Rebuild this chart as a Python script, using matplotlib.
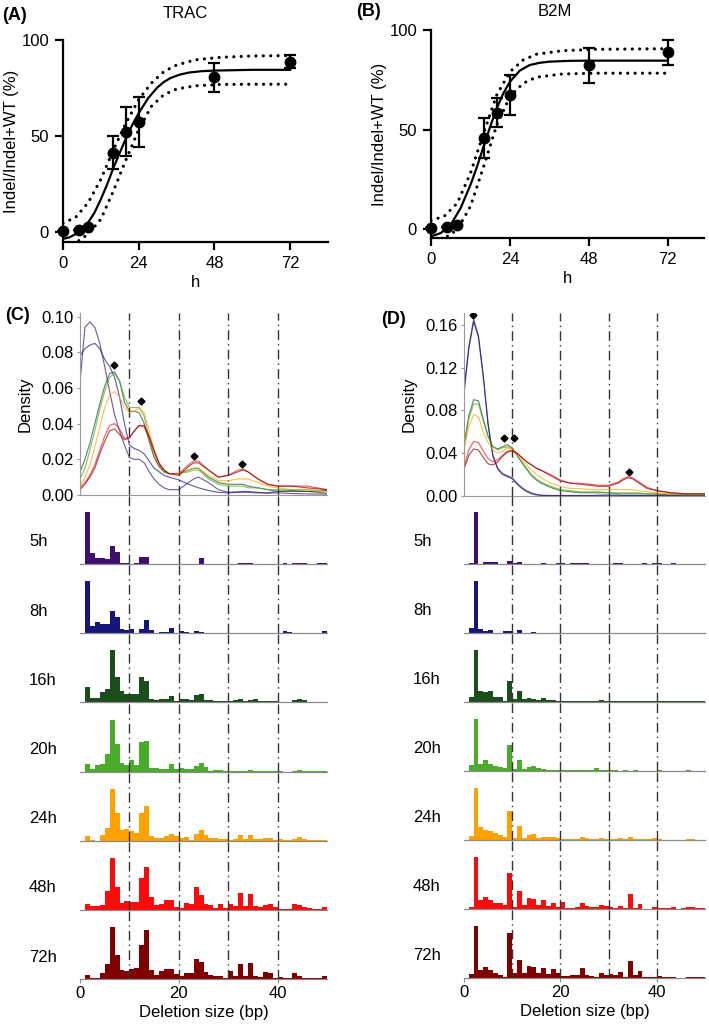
#!/usr/bin/env python3
"""
Editing kinetics (TRAC / B2M) and deletion-size distributions over time.
"""

import matplotlib
matplotlib.use('Agg')
import matplotlib.pyplot as plt

plt.rcParams['font.family'] = ['Liberation Sans', 'DejaVu Sans']
plt.rcParams['font.size'] = 12

# ---------------- kinetics data (panels A, B) ----------------
hours = [0, 5, 8, 16, 20, 24, 48, 72]

trac_mean = [0.5, 1.0, 2.6, 41.4, 52.4, 57.6, 80.7, 88.8]
trac_sd = [0.0, 0.0, 0.0, 8.5, 12.8, 13.0, 7.5, 3.4]
b2m_mean = [0.3, 1.0, 2.2, 45.7, 58.5, 67.4, 82.4, 88.8]
b2m_sd = [0.0, 0.0, 0.0, 10.0, 7.2, 10.0, 8.8, 6.3]

# fitted curve and confidence band
trac_fit_x = [0, 2, 5, 8, 10, 12, 14, 16, 18, 20, 22, 24, 27, 30, 32, 34, 37, 40, 44,
              48, 60, 72]
trac_fit_y = [-3.4, -2.6, 0.0, 5.2, 10.3, 17.2, 25.0, 33.6, 41.4, 49.1, 56.0, 62.0,
              69.8, 75.5, 78.2, 80.2, 82.0, 83.1, 83.8, 84.1, 84.5, 84.5]
trac_up_x = [0, 4, 8, 12, 16, 20, 24, 28, 32, 36, 42, 50, 60, 72]
trac_up_y = [4.8, 7.8, 15.5, 27.6, 43.0, 57.0, 69.0, 77.6, 83.6, 87.0, 89.7, 91.0, 91.7, 91.9]
trac_lo_x = [5, 8, 12, 16, 20, 24, 28, 32, 36, 42, 50, 60, 72]
trac_lo_y = [-4.3, -0.9, 6.9, 21.6, 37.9, 53.4, 65.5, 71.6, 74.5, 76.2, 76.9, 77.0, 77.0]

b2m_fit_x = [0, 3, 6, 9, 12, 14, 16, 18, 20, 22, 24, 27, 30, 33, 36, 42, 48, 72]
b2m_fit_y = [-3.7, -2.0, 2.2, 10.5, 22.2, 31.4, 41.5, 51.5, 60.7, 68.2, 74.0, 79.6,
             82.4, 83.5, 84.1, 84.5, 84.6, 84.6]
b2m_up_x = [0, 4, 8, 12, 16, 20, 24, 28, 32, 40, 50, 72]
b2m_up_y = [4.3, 6.4, 13.0, 28.1, 48.2, 67.4, 79.0, 84.9, 87.8, 89.6, 90.3, 90.6]
b2m_lo_x = [5, 8, 12, 16, 20, 24, 28, 32, 40, 50, 72]
b2m_lo_y = [-3.7, -0.3, 11.4, 31.4, 52.3, 66.6, 73.2, 76.3, 77.9, 78.3, 78.3]

# ---------------- deletion-size data (panels C, D) ----------------
timepoints = ['5h', '8h', '16h', '20h', '24h', '48h', '72h']
colors = ['#3d0f6e', '#16157a', '#1c4d1c', '#4bab2a', '#ffa200', '#ff0a0a', '#800000']
del_bins = list(range(1, 50))

trac_hist = {
    '5h': [1.0, 0.22, 0.11, 0.11, 0.10, 0.34, 0.24, 0.025, 0.025, 0, 0.02, 0.13, 0.13, 0, 0,
           0, 0, 0, 0, 0, 0, 0, 0, 0.12, 0, 0, 0, 0, 0, 0, 0, 0.01, 0.01, 0.01, 0, 0, 0, 0,
           0, 0, 0.01, 0, 0.01, 0.01, 0.01, 0, 0, 0.01, 0.01],
    '8h': [1.0, 0.135, 0.22, 0.18, 0.18, 0.42, 0.32, 0.085, 0.065, 0.085, 0, 0.085, 0.25,
           0.06, 0, 0.02, 0.02, 0.1, 0, 0.045, 0.02, 0, 0.05, 0.02, 0.01, 0, 0, 0, 0, 0, 0,
           0.01, 0.01, 0, 0, 0, 0, 0, 0, 0, 0.04, 0.02, 0, 0, 0, 0, 0, 0, 0.05],
    '16h': [0.29, 0.09, 0.09, 0.195, 0.25, 1.0, 0.48, 0.22, 0.17, 0.17, 0.17, 0.49, 0.42,
            0.065, 0.05, 0.065, 0.065, 0.12, 0.02, 0.065, 0.065, 0.05, 0.15, 0.155, 0.05,
            0.04, 0.025, 0.02, 0.02, 0.025, 0.05, 0.065, 0.02, 0.05, 0.06, 0.02, 0.025,
            0.025, 0.025, 0.015, 0, 0.015, 0.04, 0.06, 0.04, 0.015, 0, 0.005, 0.015],
    '20h': [0.14, 0.05, 0.12, 0.14, 0.33, 1.0, 0.53, 0.16, 0.12, 0.22, 0.12, 0.56, 0.58,
            0.07, 0.07, 0.05, 0.05, 0.14, 0.05, 0.07, 0.05, 0.05, 0.1, 0.17, 0.085, 0.02,
            0.03, 0.03, 0.02, 0.02, 0.02, 0.02, 0.02, 0.03, 0.02, 0.02, 0.01, 0.02, 0.02,
            0.01, 0, 0, 0.01, 0.04, 0.02, 0.02, 0.01, 0.01, 0.01],
    '24h': [0.085, 0.02, 0, 0.12, 0.25, 1.0, 0.54, 0.2, 0.22, 0.19, 0.15, 0.54, 0.67, 0.1,
            0.06, 0.045, 0.085, 0.14, 0.1, 0.06, 0.07, 0.02, 0.14, 0.2, 0.11, 0.06, 0.045,
            0.03, 0.03, 0.02, 0.03, 0.12, 0.03, 0.12, 0.03, 0.03, 0.045, 0.06, 0.02, 0.03,
            0.01, 0.01, 0.03, 0.07, 0.03, 0.02, 0.01, 0.01, 0.01],
    '48h': [0.12, 0.07, 0.07, 0.09, 0.37, 1.0, 0.44, 0.14, 0.18, 0.16, 0.16, 0.61, 0.82,
            0.25, 0.09, 0.11, 0.19, 0.19, 0.06, 0.045, 0.14, 0.11, 0.44, 0.29, 0.11, 0.09,
            0.045, 0.11, 0.045, 0.11, 0.07, 0.32, 0.07, 0.31, 0.07, 0.06, 0.09, 0.12, 0.06,
            0.02, 0.02, 0.01, 0.12, 0.09, 0.06, 0.03, 0.02, 0.01, 0.06],
    '72h': [0.08, 0.025, 0.025, 0.11, 0.3, 1.0, 0.46, 0.17, 0.16, 0.2, 0.22, 0.66, 0.95,
            0.17, 0.08, 0.16, 0.2, 0.19, 0.1, 0.07, 0.11, 0.11, 0.39, 0.34, 0.14, 0.08,
            0.07, 0.07, 0.025, 0.15, 0.065, 0.29, 0.07, 0.32, 0.07, 0.045, 0.14, 0.11, 0.03,
            0.045, 0.03, 0.02, 0.11, 0.07, 0.03, 0.015, 0.015, 0.015, 0.06],
}

b2m_hist = {
    '5h': [0.01, 1.0, 0, 0.02, 0.02, 0.035, 0, 0, 0.05, 0.01, 0.03, 0, 0, 0, 0, 0.01, 0, 0,
           0.01, 0.01, 0, 0.01, 0.01, 0.01, 0.01, 0, 0, 0, 0, 0, 0.01, 0.01, 0, 0, 0, 0,
           0.01, 0, 0.01, 0.01, 0, 0, 0.01, 0, 0, 0, 0, 0, 0],
    '8h': [0.08, 1.0, 0.065, 0.04, 0.05, 0, 0, 0.04, 0.04, 0, 0.045, 0, 0, 0.01, 0, 0, 0,
           0, 0, 0, 0, 0, 0, 0, 0, 0, 0, 0, 0, 0, 0, 0, 0, 0, 0, 0, 0, 0, 0, 0, 0, 0, 0, 0,
           0, 0, 0, 0, 0],
    '16h': [0.085, 1.0, 0.21, 0.18, 0.2, 0.085, 0.085, 0.015, 0.4, 0.05, 0.21, 0.045,
            0.065, 0.045, 0.03, 0.07, 0.04, 0.03, 0.01, 0.01, 0.01, 0.01, 0.01, 0.01, 0.01,
            0.01, 0.01, 0.025, 0.01, 0.01, 0.01, 0.01, 0.01, 0.01, 0.01, 0.01, 0.005, 0.005,
            0.005, 0.005, 0.005, 0.005, 0.005, 0.005, 0.005, 0.01, 0.005, 0.005, 0.005],
    '20h': [0.11, 1.0, 0.13, 0.2, 0.13, 0.1, 0.065, 0.045, 0.49, 0.03, 0.21, 0.03, 0.08,
            0.09, 0.045, 0.03, 0.01, 0.01, 0.01, 0.01, 0.01, 0.01, 0.01, 0.01, 0.01, 0.01,
            0.045, 0.01, 0.01, 0.01, 0.01, 0.005, 0.01, 0.005, 0.01, 0.005, 0.005, 0.005,
            0.005, 0.01, 0.005, 0.005, 0.005, 0.005, 0.005, 0.01, 0.005, 0.005, 0.005],
    '24h': [0.08, 1.0, 0.24, 0.19, 0.17, 0.14, 0.1, 0.05, 0.55, 0.03, 0.26, 0.03, 0.1, 0.12,
            0.045, 0.065, 0.05, 0.05, 0.04, 0.015, 0.015, 0.015, 0.015, 0.065, 0.04, 0.01,
            0.01, 0.03, 0.01, 0.025, 0.01, 0.03, 0.01, 0.05, 0.01, 0.01, 0.01, 0.01, 0.03,
            0.01, 0.005, 0.005, 0.005, 0.005, 0.005, 0.02, 0.015, 0.005, 0.005],
    '48h': [0.045, 1.0, 0.17, 0.24, 0.17, 0.11, 0.12, 0.07, 0.7, 0.045, 0.35, 0.08, 0.22,
            0.19, 0.08, 0.17, 0.06, 0.12, 0.045, 0.135, 0.02, 0.02, 0.045, 0.11, 0.06, 0.045,
            0.03, 0.07, 0.065, 0.03, 0.02, 0.06, 0.02, 0.29, 0.02, 0.09, 0.005, 0.005, 0.03,
            0.01, 0.02, 0.02, 0.03, 0.005, 0.02, 0.03, 0.03, 0.02, 0.02],
    '72h': [0.08, 1.0, 0.16, 0.21, 0.15, 0.1, 0.065, 0.03, 0.86, 0.1, 0.35, 0.1, 0.23, 0.21,
            0.1, 0.19, 0.08, 0.18, 0.1, 0.045, 0.045, 0.06, 0.06, 0.19, 0.06, 0.045, 0.03,
            0.1, 0.06, 0.085, 0.06, 0.11, 0.03, 0.32, 0.06, 0.13, 0.03, 0.03, 0.03, 0.045,
            0.03, 0.03, 0.03, 0.01, 0.01, 0.02, 0.02, 0.02, 0.03],
}

# density curves
trac_dens_x = [0, 1, 2, 3, 4, 5, 6, 7, 8, 9, 10, 11, 12, 13, 14, 15, 16, 17, 18, 20, 22, 23,
               24, 26, 28, 30, 32, 33, 34, 36, 38, 40, 43, 46, 50]
trac_dens = {
    '5h': [0.063, 0.094, 0.097, 0.094, 0.085, 0.072, 0.058, 0.045, 0.036, 0.028, 0.021,
           0.020, 0.020, 0.018, 0.013, 0.009, 0.006, 0.004, 0.003, 0.003, 0.007, 0.009,
           0.010, 0.007, 0.003, 0.0015, 0.0018, 0.002, 0.002, 0.0015, 0.001, 0.0012,
           0.0008, 0.0006, 0.0005],
    '8h': [0.078, 0.082, 0.084, 0.085, 0.082, 0.076, 0.072, 0.066, 0.055, 0.040, 0.028,
           0.026, 0.025, 0.023, 0.019, 0.015, 0.013, 0.011, 0.010, 0.0085, 0.006, 0.005,
           0.004, 0.0025, 0.0015, 0.0012, 0.0015, 0.0015, 0.0015, 0.0012, 0.0012, 0.002,
           0.0025, 0.002, 0.0025],
    '16h': [0.013, 0.020, 0.029, 0.040, 0.051, 0.061, 0.068, 0.069, 0.064, 0.052, 0.047,
            0.047, 0.046, 0.040, 0.030, 0.021, 0.016, 0.013, 0.012, 0.012, 0.014, 0.015,
            0.015, 0.010, 0.007, 0.006, 0.006, 0.006, 0.005, 0.004, 0.003, 0.002, 0.002,
            0.002, 0.001],
    '20h': [0.009, 0.015, 0.025, 0.036, 0.048, 0.058, 0.066, 0.068, 0.064, 0.055, 0.049,
            0.049, 0.049, 0.044, 0.032, 0.022, 0.016, 0.013, 0.012, 0.012, 0.013, 0.014,
            0.014, 0.009, 0.006, 0.005, 0.005, 0.005, 0.004, 0.004, 0.003, 0.003, 0.003,
            0.003, 0.002],
    '24h': [0.005, 0.010, 0.017, 0.027, 0.038, 0.049, 0.056, 0.058, 0.055, 0.049, 0.046,
            0.047, 0.049, 0.046, 0.036, 0.025, 0.018, 0.014, 0.012, 0.012, 0.014, 0.015,
            0.015, 0.011, 0.008, 0.008, 0.009, 0.009, 0.009, 0.007, 0.005, 0.004, 0.003,
            0.003, 0.002],
    '48h': [0.004, 0.007, 0.011, 0.017, 0.025, 0.033, 0.039, 0.040, 0.037, 0.032, 0.032,
            0.036, 0.039, 0.038, 0.032, 0.024, 0.017, 0.014, 0.012, 0.012, 0.017, 0.019,
            0.019, 0.014, 0.010, 0.011, 0.014, 0.0145, 0.013, 0.009, 0.006, 0.005, 0.005,
            0.005, 0.003],
    '72h': [0.003, 0.006, 0.010, 0.015, 0.023, 0.030, 0.036, 0.037, 0.034, 0.031, 0.032,
            0.036, 0.039, 0.039, 0.033, 0.025, 0.018, 0.014, 0.012, 0.011, 0.016, 0.018,
            0.018, 0.014, 0.010, 0.011, 0.013, 0.014, 0.013, 0.009, 0.006, 0.005, 0.005,
            0.004, 0.003],
}

b2m_dens_x = [0, 1, 2, 3, 4, 5, 6, 7, 8, 9, 10, 11, 12, 13, 14, 15, 16, 18, 20, 22, 24, 26,
              28, 30, 32, 33, 34, 35, 36, 38, 40, 43, 46, 50]
b2m_dens = {
    '5h': [0.100, 0.140, 0.165, 0.150, 0.113, 0.068, 0.038, 0.026, 0.021, 0.019, 0.017,
           0.012, 0.008, 0.005, 0.003, 0.0015, 0.0008, 0.0005, 0.0005, 0.0005, 0.0005,
           0.0005, 0.0008, 0.001, 0.0008, 0.0005, 0.0005, 0.0005, 0.0005, 0.0005, 0.0005,
           0.0005, 0.0003, 0.0003],
    '8h': [0.095, 0.137, 0.163, 0.148, 0.111, 0.066, 0.037, 0.025, 0.020, 0.018, 0.016,
           0.011, 0.007, 0.004, 0.002, 0.001, 0.0005, 0.0003, 0.0003, 0.0003, 0.0003,
           0.0003, 0.0003, 0.0003, 0.0003, 0.0003, 0.0003, 0.0003, 0.0003, 0.0003, 0.0003,
           0.0003, 0.0003, 0.0003],
    '16h': [0.048, 0.075, 0.090, 0.089, 0.072, 0.056, 0.046, 0.044, 0.046, 0.048, 0.045,
            0.038, 0.031, 0.025, 0.019, 0.015, 0.012, 0.008, 0.005, 0.004, 0.003, 0.003,
            0.003, 0.003, 0.002, 0.002, 0.002, 0.002, 0.002, 0.002, 0.0015, 0.001, 0.001,
            0.001],
    '20h': [0.045, 0.072, 0.086, 0.086, 0.070, 0.055, 0.046, 0.043, 0.045, 0.046, 0.044,
            0.038, 0.032, 0.026, 0.020, 0.016, 0.013, 0.009, 0.006, 0.005, 0.004, 0.004,
            0.004, 0.003, 0.003, 0.003, 0.003, 0.003, 0.003, 0.002, 0.002, 0.002, 0.001,
            0.001],
    '24h': [0.043, 0.065, 0.076, 0.074, 0.060, 0.050, 0.043, 0.040, 0.042, 0.045, 0.044,
            0.039, 0.034, 0.029, 0.024, 0.020, 0.017, 0.012, 0.009, 0.007, 0.007, 0.006,
            0.006, 0.006, 0.006, 0.006, 0.006, 0.006, 0.005, 0.004, 0.003, 0.002, 0.002,
            0.002],
    '48h': [0.027, 0.043, 0.051, 0.050, 0.042, 0.035, 0.032, 0.034, 0.038, 0.042, 0.043,
            0.040, 0.036, 0.032, 0.029, 0.026, 0.024, 0.020, 0.015, 0.012, 0.012, 0.011,
            0.010, 0.010, 0.013, 0.016, 0.018, 0.017, 0.014, 0.008, 0.005, 0.003, 0.002,
            0.002],
    '72h': [0.025, 0.038, 0.044, 0.043, 0.036, 0.030, 0.029, 0.032, 0.037, 0.041, 0.042,
            0.040, 0.036, 0.032, 0.029, 0.026, 0.024, 0.019, 0.014, 0.012, 0.011, 0.010,
            0.009, 0.009, 0.012, 0.015, 0.017, 0.016, 0.013, 0.007, 0.005, 0.003, 0.002,
            0.002],
}

trac_peak_x = [6.9, 12.3, 23.0, 32.8]
trac_peak_y = [0.073, 0.0526, 0.0221, 0.0171]
b2m_peak_x = [1.9, 8.3, 10.4, 34.2]
b2m_peak_y = [0.169, 0.054, 0.054, 0.0228]

guide_lines = [10, 20, 30, 40]

W, H = 709, 1024
FS = 12


def fig_rect(left, top, right, bottom):
    """Pixel box -> figure fraction rect."""
    return [left / W, 1 - bottom / H, (right - left) / W, (bottom - top) / H]


def kinetics_panel(fig, rect, ylim, xlim, mean, sd, fit, up, lo):
    ax = fig.add_axes(rect)
    ax.plot(fit[0], fit[1], color='black', lw=1.6)
    for band in (up, lo):
        ax.plot(band[0], band[1], color='black', lw=2.3, linestyle=(0, (0.01, 2.3)),
                dash_capstyle='round')
    ax.errorbar(hours, mean, yerr=sd, fmt='o', color='black', ms=7.5, capsize=4,
                elinewidth=1.6, capthick=1.6, clip_on=False, zorder=5)
    ax.set_xlim(*xlim)
    ax.set_ylim(*ylim)
    ax.set_xticks([0, 24, 48, 72])
    ax.set_yticks([0, 50, 100])
    for s in ['top', 'right']:
        ax.spines[s].set_visible(False)
    for s in ['left', 'bottom']:
        ax.spines[s].set_linewidth(1.6)
    ax.spines['left'].set_bounds(ylim[0], 100)
    ax.tick_params(width=1.6, length=6, labelsize=FS, pad=4)
    ax.set_xlabel('h', fontsize=FS, labelpad=3)
    ax.set_ylabel('Indel/Indel+WT (%)', fontsize=FS, labelpad=2)
    return ax


def deletion_panel(fig, left, right, dens_top, dens_bottom, base0, step,
                   dens_x, dens, hist, peak_x, peak_y, ymax, yticks):
    # density overlay
    ax = fig.add_axes(fig_rect(left, dens_top, right, dens_bottom))
    for tp, c in zip(timepoints, colors):
        ax.plot(dens_x, dens[tp], color=c, lw=0.8, alpha=0.7)
    ax.plot(peak_x, peak_y, 'D', color='black', ms=3.5)
    for g in guide_lines:
        ax.axvline(g, color='#333333', lw=1.0, dashes=(7, 3, 1, 3), zorder=0)
    ax.set_xlim(0, 50)
    ax.set_ylim(0, ymax)
    ax.set_yticks(yticks)
    ax.set_yticklabels([f'{t:.2f}' for t in yticks])
    ax.set_xticks([])
    for s in ['top', 'right']:
        ax.spines[s].set_visible(False)
    for s in ['left', 'bottom']:
        ax.spines[s].set_color('#9a9a9a')
        ax.spines[s].set_linewidth(0.8)
    ax.tick_params(axis='y', color='#9a9a9a', length=2.5, width=0.8, labelsize=FS, pad=2)
    ax.set_ylabel('Density', fontsize=FS, labelpad=6)

    # stacked histograms
    for i, (tp, c) in enumerate(zip(timepoints, colors)):
        base = base0 + i * step
        hx = fig.add_axes(fig_rect(left, base - step, right, base))
        hx.bar(del_bins, hist[tp], width=1, align='edge', color=c, linewidth=0)
        for g in guide_lines:
            hx.axvline(g, color='#333333', lw=1.0, dashes=(7, 3, 1, 3), zorder=3)
        hx.set_xlim(0, 50)
        hx.set_ylim(0, 1.33)
        hx.set_yticks([])
        for s in ['top', 'right', 'left']:
            hx.spines[s].set_visible(False)
        hx.spines['bottom'].set_color('#8a8a8a')
        hx.spines['bottom'].set_linewidth(0.9)
        hx.patch.set_alpha(0)
        hx.annotate(tp, xy=(0, 0.32), xycoords='axes fraction', xytext=(-51, 0),
                    textcoords='offset pixels', ha='left', va='center', fontsize=FS)
        if i == len(timepoints) - 1:
            hx.set_xticks([0, 20, 40])
            hx.tick_params(axis='x', color='#8a8a8a', length=3, width=0.8,
                           labelsize=FS, pad=2)
            hx.set_xlabel('Deletion size (bp)', fontsize=FS, labelpad=3)
        else:
            hx.set_xticks([])


def main():
    fig = plt.figure(figsize=(W / 100, H / 100), dpi=100)

    kinetics_panel(fig, fig_rect(63, 40, 328, 242), (-5, 100), (0, 84),
                   trac_mean, trac_sd, (trac_fit_x, trac_fit_y),
                   (trac_up_x, trac_up_y), (trac_lo_x, trac_lo_y))
    kinetics_panel(fig, fig_rect(431, 30, 704, 238), (-4.5, 100), (0, 83),
                   b2m_mean, b2m_sd, (b2m_fit_x, b2m_fit_y),
                   (b2m_up_x, b2m_up_y), (b2m_lo_x, b2m_lo_y))

    fig.text(2 / W, 1 - 15 / H, '(A)', fontsize=13, fontweight='bold', va='center')
    fig.text(185 / W, 1 - 14 / H, 'TRAC', fontsize=FS, ha='center', va='center')
    fig.text(356 / W, 1 - 12 / H, '(B)', fontsize=13, fontweight='bold', va='center')
    fig.text(555 / W, 1 - 12 / H, 'B2M', fontsize=FS, ha='center', va='center')

    deletion_panel(fig, 80, 327, 313, 495, 564, 69.2, trac_dens_x, trac_dens,
                   trac_hist, trac_peak_x, trac_peak_y, 0.102,
                   [0.0, 0.02, 0.04, 0.06, 0.08, 0.10])
    deletion_panel(fig, 464, 705, 313, 496, 563.5, 69.1, b2m_dens_x, b2m_dens,
                   b2m_hist, b2m_peak_x, b2m_peak_y, 0.171,
                   [0.0, 0.04, 0.08, 0.12, 0.16])

    fig.text(5 / W, 1 - 316 / H, '(C)', fontsize=13, fontweight='bold', va='center')
    fig.text(381 / W, 1 - 320 / H, '(D)', fontsize=13, fontweight='bold', va='center')

    fig.savefig('out.png', dpi=100)
    plt.close(fig)


if __name__ == "__main__":
    main()
